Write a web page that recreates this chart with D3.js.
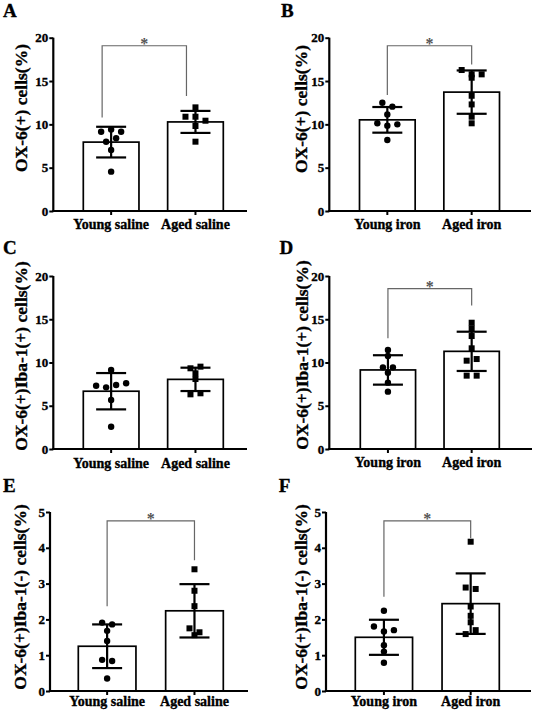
<!DOCTYPE html>
<html><head><meta charset="utf-8">
<script src="https://cdn.jsdelivr.net/npm/d3@7/dist/d3.min.js"></script>
<style>
html,body{margin:0;padding:0;background:#fff;}
svg{display:block;}
text{font-family:"Liberation Serif","Times New Roman",serif;font-weight:bold;}
.heavy{stroke:#000;stroke-width:0.35px;fill:#000;}
</style></head>
<body><svg id="chart" width="533" height="713"></svg>
<script>
// ---------- data ----------
const panelLetters = ["A","B","C","D","E","F"];
const salineGroups = ["Young saline","Aged saline"];
const ironGroups = ["Young iron","Aged iron"];
const panelGroups = [salineGroups, ironGroups, salineGroups, ironGroups, salineGroups, ironGroups];
const yTitles = ["OX-6(+) cells(%)","OX-6(+) cells(%)","OX-6(+)Iba-1(+) cells(%)","OX-6(+)Iba-1(+) cells(%)","OX-6(+)Iba-1(-) cells(%)","OX-6(+)Iba-1(-) cells(%)"];
const ticks20 = [0,5,10,15,20];
const ticks5 = [0,1,2,3,4,5];
const panelTicks = [ticks20, ticks20, ticks20, ticks20, ticks5, ticks5];

// bar means (young, aged) and SD
const means = [[7.95,10.28],[10.52,13.72],[6.68,8.05],[9.14,11.29],[1.25,2.24],[1.5,2.44]];
const sds   = [[1.77,1.27],[1.48,2.5],[2.1,1.35],[1.7,2.27],[0.61,0.745],[0.49,0.845]];

// individual points
const youngPoints = [
  [9.15,9.42,9.15,8.0,8.39,7.04,4.54],
  [12.5,12.04,11.15,10.12,9.85,10.0,8.19],
  [9.13,7.32,7.13,7.4,7.6,5.66,2.58],
  [11.45,10.75,9.44,9.44,8.82,7.67,6.63],
  [1.91,1.86,1.68,1.40,0.87,0.84,0.35],
  [2.24,1.80,1.66,1.70,1.28,1.10,0.79]
];
const agedPoints = [
  [11.96,10.88,10.88,10.42,9.81,8.0],
  [16.27,15.77,15.77,15.38,13.3,12.3,10.88,10.12],
  [9.33,9.52,8.75,8.09,6.32,6.44],
  [14.6,13.95,13.06,11.64,10.21,10.4,8.48,8.48],
  [3.40,2.80,2.37,1.75,1.64,1.56],
  [4.17,2.89,2.85,2.36,2.10,1.92,1.59,1.70]
];
// significance brackets: [left end, right end, top] (null = none)
const brackets = [[10.8,13.27,19.07],[13.38,16.9,19.07],null,[12.8,16.6,18.53],[2.37,3.65,4.75],[2.63,4.27,4.75]];
const sigLabel = "*";

// ---------- layout ----------
const layout = [
 {ax:53.3, axEnd:247, barL:83.3, barR:223.3, y0:211, yTop:37.7, titleX:20.5, titleY:108, letterX:3, letterY:17, catY:229, brShift:-9},
 {ax:329.3, axEnd:531, barL:359.5, barR:499.5, y0:211, yTop:37.7, titleX:301, titleY:109, letterX:281, letterY:17, catY:229, brShift:0},
 {ax:53.3, axEnd:247, barL:83.3, barR:223.3, y0:449, yTop:276, titleX:21, titleY:356, letterX:3, letterY:254, catY:467.5, brShift:0},
 {ax:329.3, axEnd:532, barL:360.3, barR:499.3, y0:449, yTop:276, titleX:301.5, titleY:355, letterX:279.5, letterY:254, catY:467, brShift:0},
 {ax:50, axEnd:248, barL:78.3, barR:223.3, y0:691, yTop:512, titleX:19.5, titleY:597, letterX:3, letterY:492, catY:706, brShift:0},
 {ax:326, axEnd:531, barL:355.3, barR:499.3, y0:691, yTop:512, titleX:300.5, titleY:597, letterX:278.7, letterY:492, catY:706, brShift:0}
];

const svg = d3.select("#chart");

function swarm(vals, y, rowH, spacing){
  const items = vals.map((v,i)=>({v,i,py:y(v),dx:0}));
  const sorted = items.slice().sort((a,b)=>a.py-b.py || a.i-b.i);
  const rows = [];
  let cur = null;
  sorted.forEach(p=>{
    if(!cur || p.py - cur.start >= rowH){ cur = {start:p.py, pts:[]}; rows.push(cur); }
    cur.pts.push(p);
  });
  rows.forEach(r=>{
    r.pts.sort((a,b)=>a.i-b.i);
    const k = r.pts.length;
    r.pts.forEach((p,j)=>{ p.dx = (j-(k-1)/2)*spacing; });
  });
  return items;
}

layout.forEach((L,pi)=>{
  const g = svg.append("g");
  const ticks = panelTicks[pi];
  const y = d3.scaleLinear().domain([0, d3.max(ticks)]).range([L.y0, L.yTop]);
  const x = d3.scaleBand().domain(panelGroups[pi]).range([L.barL, L.barR]).paddingInner(0.34).paddingOuter(0);
  const bw = x.bandwidth();
  const cx = c => x(c) + bw/2;

  // panel letter
  g.append("text").attr("class","heavy").attr("x", L.letterX).attr("y", L.letterY).attr("font-size", 19).text(panelLetters[pi]);

  // bars
  panelGroups[pi].forEach((c,ci)=>{
    g.append("rect").attr("x", x(c)).attr("y", y(means[pi][ci]))
      .attr("width", bw).attr("height", L.y0 - y(means[pi][ci]))
      .attr("fill","#fff").attr("stroke","#000").attr("stroke-width",1.7);
  });

  // points
  const pts = [youngPoints[pi], agedPoints[pi]];
  pts.forEach((vals,ci)=>{
    const c = panelGroups[pi][ci];
    const sw = swarm(vals, y, 5.2, 10);
    sw.forEach(p=>{
      if(ci===0){
        g.append("circle").attr("cx", cx(c)+p.dx).attr("cy", p.py).attr("r", 3.2).attr("fill","#000");
      } else {
        g.append("rect").attr("x", cx(c)+p.dx-3).attr("y", p.py-3).attr("width",6).attr("height",6).attr("fill","#000");
      }
    });
  });

  // error bars
  panelGroups[pi].forEach((c,ci)=>{
    const m = means[pi][ci], s = sds[pi][ci];
    const xc = cx(c);
    g.append("line").attr("x1",xc).attr("x2",xc).attr("y1",y(m+s)).attr("y2",y(m-s)).attr("stroke","#000").attr("stroke-width",2.2);
    [m+s, m-s].forEach(v=>{
      g.append("line").attr("x1",xc-15).attr("x2",xc+15).attr("y1",y(v)).attr("y2",y(v)).attr("stroke","#000").attr("stroke-width",2.2);
    });
  });

  // y axis
  const yAxis = d3.axisLeft(y).tickValues(ticks).tickSize(4).tickPadding(1).tickFormat(d3.format("d"));
  const ya = g.append("g").attr("transform", `translate(${L.ax},0)`).call(yAxis);
  ya.select(".domain").attr("stroke","#000").attr("stroke-width",2.2).attr("d", `M0,${L.y0}V${L.yTop}`);
  ya.selectAll(".tick line").attr("stroke","#000").attr("stroke-width",2);
  ya.selectAll(".tick text").attr("class","heavy").style("font-size","13px");

  // x axis
  g.append("line").attr("x1", L.ax-1.1).attr("x2", L.axEnd).attr("y1", L.y0).attr("y2", L.y0).attr("stroke","#000").attr("stroke-width",2.2);
  panelGroups[pi].forEach(c=>{
    g.append("line").attr("x1",cx(c)).attr("x2",cx(c)).attr("y1",L.y0).attr("y2",L.y0+4).attr("stroke","#000").attr("stroke-width",2);
    g.append("text").attr("class","heavy").attr("x",cx(c)).attr("y",L.catY).attr("text-anchor","middle").attr("font-size",14).text(c);
  });

  // y title
  g.append("text").attr("class","heavy").attr("transform", `translate(${L.titleX},${L.titleY}) rotate(-90)`)
    .attr("text-anchor","middle").attr("dy","0.35em").attr("font-size",17.5).text(yTitles[pi]);

  // significance bracket
  const b = brackets[pi];
  if(b){
    const xl = cx(panelGroups[pi][0]) + L.brShift, xr = cx(panelGroups[pi][1]) + L.brShift;
    g.append("path").attr("d", `M${xl},${y(b[0])}V${y(b[2])}H${xr}V${y(b[1])}`)
      .attr("fill","none").attr("stroke","#666").attr("stroke-width",1.2);
    g.append("text").attr("x",(xl+xr)/2).attr("y", y(b[2])+3).attr("text-anchor","middle")
      .attr("font-size",16).attr("font-weight","normal").attr("fill","#555").text(sigLabel);
  }
});
</script>
</body></html>
